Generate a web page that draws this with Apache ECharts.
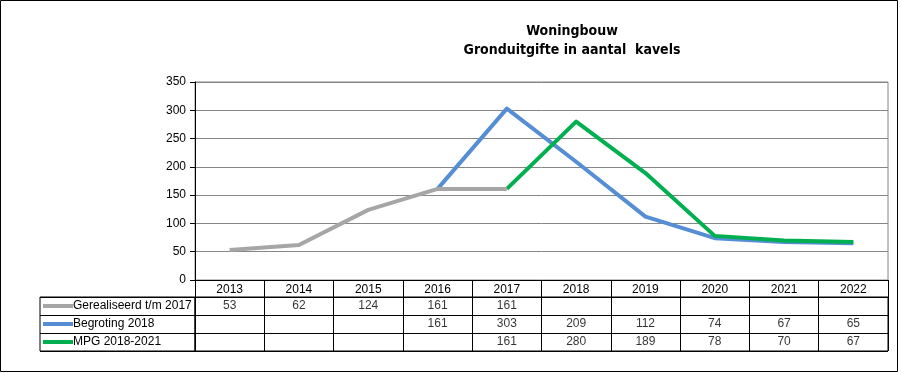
<!DOCTYPE html>
<html>
<head>
<meta charset="utf-8">
<script src="https://cdn.jsdelivr.net/npm/echarts@6/dist/echarts.min.js"></script>
<style>
html,body{margin:0;padding:0;background:#fff;}
#c{width:901px;height:373px;}
</style>
</head>
<body>
<div id="c"></div>
<script>
const years = ['2013','2014','2015','2016','2017','2018','2019','2020','2021','2022'];
const seriesNames = ['Gerealiseerd t/m 2017','Begroting 2018','MPG 2018-2021'];
const gerealiseerd = [53,62,124,161,161,null,null,null,null,null];
const begroting = [null,null,null,161,303,209,112,74,67,65];
const mpg = [null,null,null,null,161,280,189,78,70,67];
const yTicks = {min:0, max:350, interval:50};
const colors = ['#A6A6A6','#558ED5','#00B050'];

const allValues = [gerealiseerd, begroting, mpg];
const cells = [];
allValues.forEach((arr, r) => arr.forEach((v, i) => { if (v !== null) cells.push([i, r, v]); }));

const font = 'Liberation Sans, Arial, sans-serif';
const chart = echarts.init(document.getElementById('c'));
chart.setOption({
  animation: false,
  title: {
    text: 'Woningbouw\nGronduitgifte in aantal  kavels',
    left: 567, top: 17, textAlign: 'center',
    textStyle: {fontFamily: 'DejaVu Sans Condensed, DejaVu Sans, sans-serif', fontWeight: 'bold', fontSize: 14, color: '#000', lineHeight: 19}
  },
  graphic: [{type: 'rect', shape: {x: 0.5, y: 0.5, width: 897, height: 371}, style: {fill: 'none', stroke: '#000', lineWidth: 1}, silent: true}],
  grid: [
    {left: 195, top: 82, width: 693, height: 198, show: true, borderColor: '#868686', borderWidth: 1, backgroundColor: 'transparent'},
    {left: 195, top: 297, width: 693, height: 54, show: true, borderColor: '#000', borderWidth: 1, backgroundColor: 'transparent'},
    {left: 40, top: 297, width: 155, height: 54, show: true, borderColor: '#000', borderWidth: 1, backgroundColor: 'transparent'}
  ],
  xAxis: [
    {type: 'category', gridIndex: 0, data: years, boundaryGap: true,
     axisLine: {lineStyle: {color: '#000', width: 1}},
     axisTick: {show: true, length: 17, interval: 0, lineStyle: {color: '#000'}},
     axisLabel: {color: '#000', fontFamily: font, fontSize: 12, margin: 4, interval: 0},
     splitLine: {show: false}},
    {type: 'category', gridIndex: 1, data: years, boundaryGap: true,
     axisLine: {show: false}, axisTick: {show: false}, axisLabel: {show: false},
     splitLine: {show: true, interval: 0, lineStyle: {color: '#000', width: 1}}},
    {type: 'category', gridIndex: 2, data: ['legend'], boundaryGap: true,
     axisLine: {show: false}, axisTick: {show: false}, axisLabel: {show: false}, splitLine: {show: false}}
  ],
  yAxis: [
    {type: 'value', gridIndex: 0, min: yTicks.min, max: yTicks.max, interval: yTicks.interval,
     axisLine: {show: true, lineStyle: {color: '#000'}},
     axisTick: {show: true, length: 5, lineStyle: {color: '#000'}},
     axisLabel: {color: '#000', fontFamily: font, fontSize: 12, margin: 9},
     splitLine: {show: true, lineStyle: {color: '#868686', width: 1}}},
    {type: 'category', gridIndex: 1, data: seriesNames, inverse: true, boundaryGap: true,
     axisLine: {show: false}, axisTick: {show: false}, axisLabel: {show: false},
     splitLine: {show: true, interval: 0, lineStyle: {color: '#000', width: 1}}},
    {type: 'category', gridIndex: 2, data: seriesNames, inverse: true, boundaryGap: true,
     axisLine: {show: false}, axisTick: {show: false}, axisLabel: {show: false},
     splitLine: {show: true, interval: 0, lineStyle: {color: '#000', width: 1}}}
  ],
  series: [
    {name: seriesNames[1], type: 'line', xAxisIndex: 0, yAxisIndex: 0, data: begroting, symbol: 'none', connectNulls: false,
     lineStyle: {color: colors[1], width: 4, join: 'round'}, itemStyle: {color: colors[1]}, z: 3},
    {name: seriesNames[2], type: 'line', xAxisIndex: 0, yAxisIndex: 0, data: mpg, symbol: 'none', connectNulls: false,
     lineStyle: {color: colors[2], width: 4, join: 'round'}, itemStyle: {color: colors[2]}, z: 4},
    {name: seriesNames[0], type: 'line', xAxisIndex: 0, yAxisIndex: 0, data: gerealiseerd, symbol: 'none', connectNulls: false,
     lineStyle: {color: colors[0], width: 4, join: 'round'}, itemStyle: {color: colors[0]}, z: 5},
    {type: 'scatter', xAxisIndex: 1, yAxisIndex: 1, data: cells, symbolSize: 0,
     itemStyle: {color: 'transparent'}, silent: true,
     label: {show: true, position: 'inside', formatter: p => String(p.value[2]), color: '#000', fontFamily: font, fontSize: 12}},
    {type: 'custom', xAxisIndex: 2, yAxisIndex: 2, data: seriesNames.map((n, i) => [0, i]), silent: true,
     renderItem: function (params, api) {
       const r = api.value(1);
       const c = api.coord([0, r]);
       const s = api.size([1, 1]);
       const left = c[0] - s[0] / 2;
       return {type: 'group', children: [
         {type: 'line', shape: {x1: left + 3, y1: c[1], x2: left + 33, y2: c[1]}, style: {stroke: colors[r], lineWidth: 4}},
         {type: 'text', style: {text: seriesNames[r], x: left + 33, y: c[1], textAlign: 'left', textVerticalAlign: 'middle', fill: '#000', fontFamily: font, fontSize: 12}}
       ]};
     }}
  ]
});
</script>
</body>
</html>
